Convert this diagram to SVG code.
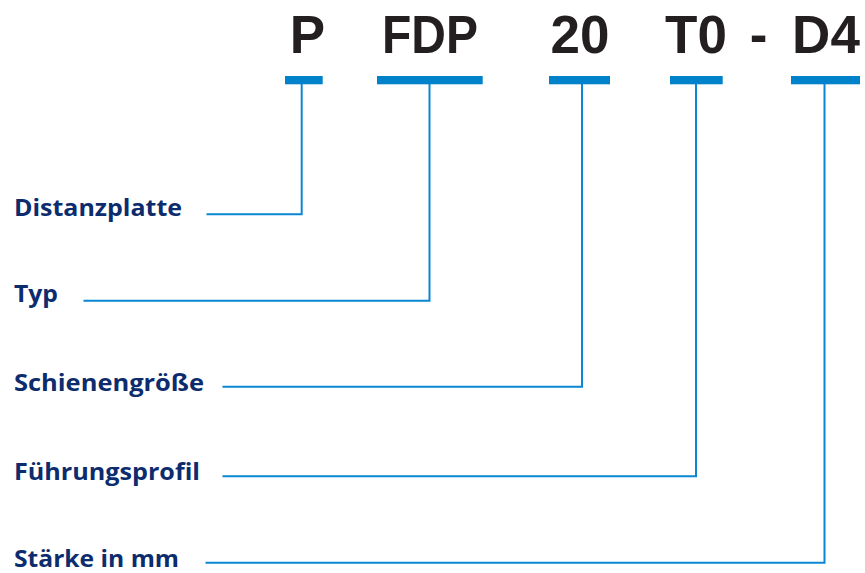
<svg xmlns="http://www.w3.org/2000/svg" width="865" height="573" viewBox="0 0 865 573">
<style>
.code{font-family:"Liberation Sans",Arial,sans-serif;font-weight:700;font-size:53px;fill:#231f20;text-anchor:middle}
.lbl{font-family:"Open Sans","Liberation Sans",sans-serif;font-weight:700;font-size:24px;fill:#0c2c6e}
.bar{fill:#0082ca}
.con{fill:none;stroke:#0a86d2;stroke-width:2}
</style>
<rect width="865" height="573" fill="#fff"/>
<g id="code-P"><text class="code" x="307.5" y="53.3">P</text><rect class="bar" x="285" y="76" width="37.7" height="8.3"/></g>
<g id="code-FDP"><text class="code" x="430" y="53.3" textLength="96" lengthAdjust="spacingAndGlyphs">FDP</text><rect class="bar" x="377" y="76" width="105.7" height="8.3"/></g>
<g id="code-20"><text class="code" x="580" y="53.3">20</text><rect class="bar" x="549" y="76" width="61" height="8.3"/></g>
<g id="code-T0"><text class="code" x="696" y="53.3">T0</text><rect class="bar" x="670" y="76" width="52.7" height="8.3"/></g>
<g id="code-dash"><text class="code" x="758.5" y="53.3">-</text></g>
<g id="code-D4"><text class="code" x="826" y="53.3">D4</text><rect class="bar" x="791" y="76" width="69" height="8.3"/></g>
<g id="label-distanzplatte"><text class="lbl" x="14" y="216" textLength="168" lengthAdjust="spacingAndGlyphs">Distanzplatte</text></g>
<g id="label-typ"><text class="lbl" x="14" y="301.5" textLength="44" lengthAdjust="spacingAndGlyphs">Typ</text></g>
<g id="label-schienengroesse"><text class="lbl" x="14" y="391" textLength="190" lengthAdjust="spacingAndGlyphs">Schienengröße</text></g>
<g id="label-fuehrungsprofil"><text class="lbl" x="14" y="479.5" textLength="186" lengthAdjust="spacingAndGlyphs">Führungsprofil</text></g>
<g id="label-staerke"><text class="lbl" x="14" y="567" textLength="165" lengthAdjust="spacingAndGlyphs">Stärke in mm</text></g>
<g id="connectors">
<path class="con" d="M301.7 84 V214.3 H206.5"/>
<path class="con" d="M429.5 84 V300.7 H83.5"/>
<path class="con" d="M582 84 V386.8 H222.5"/>
<path class="con" d="M696 84 V476.3 H222.5"/>
<path class="con" d="M824.5 84 V562.7 H205.5"/>
</g>
</svg>
